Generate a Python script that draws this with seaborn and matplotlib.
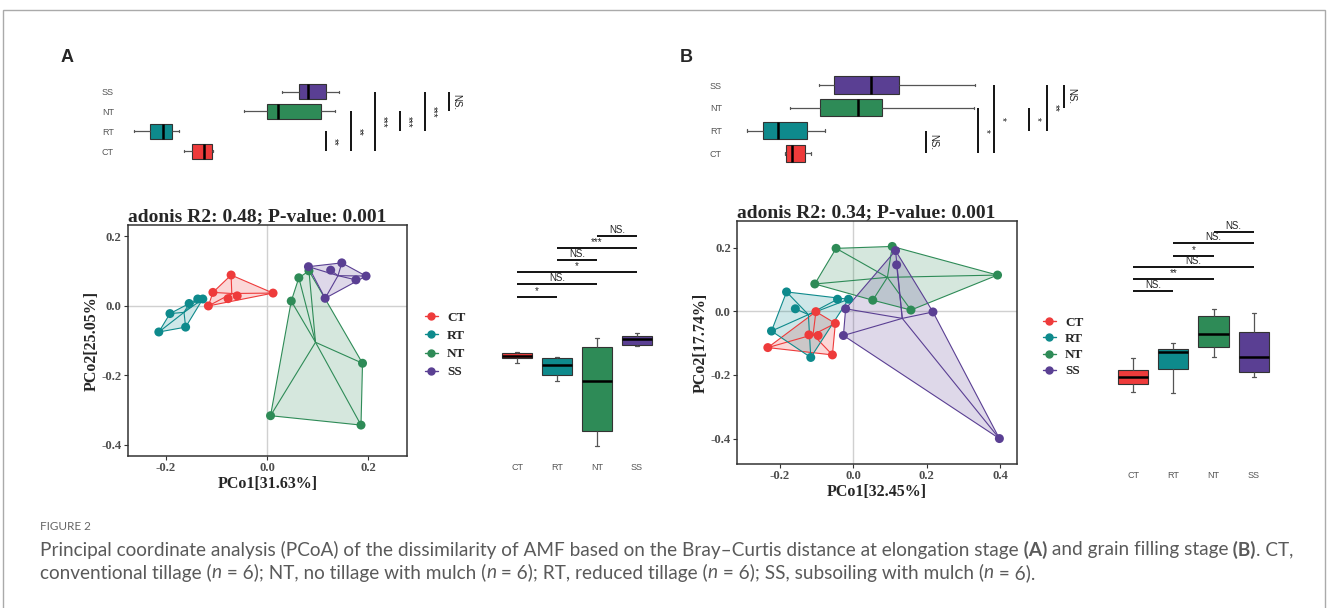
import numpy as np
import pandas as pd
import matplotlib
matplotlib.use("Agg")
import matplotlib.pyplot as plt
import seaborn as sns
from matplotlib.lines import Line2D
from matplotlib.patches import Rectangle

W, H = 1328, 608

GROUPS = ["CT", "RT", "NT", "SS"]
PALETTE = {"CT": "#EE3B3B", "RT": "#0E8A8C", "NT": "#2E8B57", "SS": "#5A3F93"}
PAIRS = [("CT", "RT"), ("CT", "NT"), ("CT", "SS"), ("RT", "NT"), ("RT", "SS"), ("NT", "SS")]

# PCoA scores, elongation stage (A)
a_pco1 = {
    "CT": [-0.116, -0.107, -0.077, -0.071, -0.059, 0.012],
    "RT": [-0.214, -0.192, -0.161, -0.154, -0.137, -0.127],
    "NT": [0.007, 0.048, 0.063, 0.083, 0.189, 0.186],
    "SS": [0.082, 0.115, 0.126, 0.148, 0.176, 0.196],
}
a_pco2 = {
    "CT": [0.000, 0.039, 0.021, 0.089, 0.029, 0.037],
    "RT": [-0.075, -0.022, -0.061, 0.007, 0.020, 0.020],
    "NT": [-0.316, 0.014, 0.081, 0.101, -0.165, -0.343],
    "SS": [0.113, 0.022, 0.103, 0.124, 0.075, 0.086],
}
# PCoA scores, grain filling stage (B)
b_pco1 = {
    "CT": [-0.233, -0.121, -0.102, -0.096, -0.057, -0.049],
    "RT": [-0.223, -0.182, -0.158, -0.116, -0.043, -0.013],
    "NT": [-0.105, -0.047, 0.053, 0.106, 0.157, 0.393],
    "SS": [-0.027, -0.021, 0.115, 0.118, 0.217, 0.398],
}
b_pco2 = {
    "CT": [-0.114, -0.074, -0.001, -0.076, -0.137, -0.038],
    "RT": [-0.062, 0.061, 0.008, -0.145, 0.038, 0.038],
    "NT": [0.086, 0.198, 0.035, 0.204, 0.004, 0.114],
    "SS": [-0.076, 0.008, 0.191, 0.146, -0.002, -0.400],
}

# marginal boxplots: min, q1, median, q3, max
box_a_top = {
    "CT": [-0.163, -0.147, -0.124, -0.108, -0.106],
    "RT": [-0.261, -0.229, -0.204, -0.186, -0.173],
    "NT": [-0.045, 0.000, 0.022, 0.106, 0.133],
    "SS": [0.029, 0.063, 0.080, 0.116, 0.141],
}
box_a_right = {
    "CT": [-0.164, -0.150, -0.144, -0.135, -0.133],
    "RT": [-0.216, -0.199, -0.170, -0.150, -0.147],
    "NT": [-0.403, -0.360, -0.216, -0.118, -0.092],
    "SS": [-0.115, -0.112, -0.095, -0.086, -0.078],
}
box_b_top = {
    "CT": [-0.186, -0.184, -0.167, -0.132, -0.116],
    "RT": [-0.290, -0.246, -0.205, -0.126, -0.077],
    "NT": [-0.173, -0.091, 0.013, 0.078, 0.329],
    "SS": [-0.094, -0.053, 0.048, 0.124, 0.332],
}
box_b_right = {
    "CT": [-0.254, -0.228, -0.206, -0.184, -0.147],
    "RT": [-0.257, -0.181, -0.128, -0.118, -0.100],
    "NT": [-0.144, -0.112, -0.071, -0.015, 0.007],
    "SS": [-0.206, -0.190, -0.144, -0.065, -0.005],
}

# significance brackets (same pair order as PAIRS)
sig_a_top = ["**", "**", "***", "***", "***", "NS."]
sig_a_top_pos = [0.116, 0.165, 0.212, 0.261, 0.310, 0.357]
sig_a_right = ["*", "NS.", "*", "NS.", "***", "NS."]
sig_a_right_pos = [0.026, 0.063, 0.098, 0.133, 0.167, 0.202]
sig_b_top = ["NS.", "*", "*", "*", "**", "NS."]
sig_b_top_pos = [0.198, 0.340, 0.384, 0.479, 0.528, 0.575]
sig_b_right = ["NS.", "**", "NS.", "*", "NS.", "NS."]
sig_b_right_pos = [0.064, 0.101, 0.139, 0.174, 0.215, 0.249]

sns.set_style("white")
plt.rcParams["font.family"] = ["Liberation Serif", "DejaVu Serif"]

fig = plt.figure(figsize=(W / 100, H / 100), dpi=100)


def px_axes(x0, y0, x1, y1):
    return fig.add_axes([x0 / W, 1 - y1 / H, (x1 - x0) / W, (y1 - y0) / H])


def hull(pts):
    pts = sorted(map(tuple, pts))

    def cross(o, a, b):
        return (a[0] - o[0]) * (b[1] - o[1]) - (a[1] - o[1]) * (b[0] - o[0])

    lower, upper = [], []
    for p in pts:
        while len(lower) >= 2 and cross(lower[-2], lower[-1], p) <= 0:
            lower.pop()
        lower.append(p)
    for p in reversed(pts):
        while len(upper) >= 2 and cross(upper[-2], upper[-1], p) <= 0:
            upper.pop()
        upper.append(p)
    return np.array(lower[:-1] + upper[:-1])


def pcoa_panel(ax, pco1, pco2, title, xlab, ylab, xlim, ylim, xticks, yticks):
    ax.axhline(0, color="#D0D0D0", lw=1, zorder=0)
    ax.axvline(0, color="#D0D0D0", lw=1, zorder=0)
    for g in GROUPS:
        pts = np.column_stack([pco1[g], pco2[g]])
        h = hull(pts)
        ax.fill(h[:, 0], h[:, 1], color=PALETTE[g], alpha=0.2, lw=0, zorder=1)
        ax.fill(h[:, 0], h[:, 1], fill=False, edgecolor=PALETTE[g], lw=0.8, zorder=2)
        cx, cy = pts.mean(axis=0)
        for px, py in pts:
            ax.plot([cx, px], [cy, py], color=PALETTE[g], lw=0.8, zorder=2)
    df = pd.DataFrame([(g, x, y) for g in GROUPS for x, y in zip(pco1[g], pco2[g])],
                      columns=["group", "pco1", "pco2"])
    sns.scatterplot(data=df, x="pco1", y="pco2", hue="group", hue_order=GROUPS,
                    palette=PALETTE, s=42, linewidth=0, legend=False, ax=ax, zorder=3)
    ax.set_xlim(*xlim)
    ax.set_ylim(*ylim)
    ax.set_xticks(xticks)
    ax.set_yticks(yticks)
    ax.set_xticklabels([f"{t:.1f}" for t in xticks])
    ax.set_yticklabels([f"{t:.1f}" for t in yticks])
    ax.tick_params(length=3, width=0.8, color="#333333", labelcolor="#4D4D4D",
                   labelsize=9.2, pad=1.5, direction="out", bottom=True, left=True)
    for lab in ax.get_xticklabels() + ax.get_yticklabels():
        lab.set_fontweight("bold")
    for sp in ax.spines.values():
        sp.set_color("#333333")
        sp.set_linewidth(1.1)
    ax.set_xlabel(xlab, fontsize=11.5, fontweight="bold", labelpad=1)
    ax.set_ylabel(ylab, fontsize=11.5, fontweight="bold", labelpad=1)
    ax.set_title(title, loc="left", fontsize=14, fontweight="bold", pad=3)


def box_panel(ax, stats, horizontal):
    order = GROUPS[::-1] if horizontal else GROUPS
    df = pd.DataFrame([(g, v) for g in order for v in stats[g]], columns=["group", "value"])
    kws = dict(data=df, hue="group", hue_order=GROUPS, palette=PALETTE, order=order,
               legend=False, width=0.75, saturation=1, whis=(0, 100), fliersize=0,
               linecolor="#333333", linewidth=0.8,
               medianprops={"color": "black", "linewidth": 1.8},
               whiskerprops={"color": "#555555", "linewidth": 0.9},
               capprops={"color": "#555555", "linewidth": 0.9},
               capwidths=0.1, ax=ax)
    if horizontal:
        sns.boxplot(x="value", y="group", orient="h", **kws)
    else:
        sns.boxplot(x="group", y="value", orient="v", **kws)
    for sp in ax.spines.values():
        sp.set_visible(False)
    ax.set_xlabel("")
    ax.set_ylabel("")
    for lab in ax.get_xticklabels() + ax.get_yticklabels():
        lab.set_family(["Liberation Sans", "DejaVu Sans"])
    if horizontal:
        ax.set_xticks([])
        ax.tick_params(axis="y", length=0, labelsize=6.5, labelcolor="#555555", pad=3)
    else:
        ax.set_yticks([])
        ax.tick_params(axis="x", length=0, labelsize=6.5, labelcolor="#555555", pad=5)
    return {g: i for i, g in enumerate(order)}


def brackets_vertical(ax, pos, ys, labels, dy):
    for (g1, g2), y, lab in zip(PAIRS, ys, labels):
        x1, x2 = pos[g1], pos[g2]
        ax.plot([x1, x2], [y, y], color="black", lw=1.3, solid_capstyle="butt")
        ax.text((x1 + x2) / 2, y + dy, lab, ha="center", va="bottom", fontsize=7,
                family=["Liberation Sans", "DejaVu Sans"], color="#222222")


def brackets_horizontal(ax, pos, xs, labels, dx):
    for (g1, g2), x, lab in zip(PAIRS, xs, labels):
        y1, y2 = pos[g1], pos[g2]
        ax.plot([x, x], [y1, y2], color="black", lw=1.3, solid_capstyle="butt")
        ax.text(x + dx, (y1 + y2) / 2, lab, ha="left", va="center", rotation=-90,
                fontsize=7, family=["Liberation Sans", "DejaVu Sans"], color="#222222")


legend_handles = [Line2D([0], [0], color=PALETTE[g], marker="o", markersize=5, lw=1)
                  for g in GROUPS]

# ---------------- panel A ----------------
ax = px_axes(128, 225, 407, 456)
pcoa_panel(ax, a_pco1, a_pco2, "adonis R2: 0.48; P-value: 0.001", "PCo1[31.63%]",
           "PCo2[25.05%]", (-0.275, 0.277), (-0.432, 0.233), [-0.2, 0.0, 0.2],
           [-0.4, -0.2, 0.0, 0.2])

ax = px_axes(118, 80, 470, 165)
pos = box_panel(ax, box_a_top, horizontal=True)
ax.set_xlim(-0.292, 0.398)
ax.set_ylim(3.675, -0.575)
brackets_horizontal(ax, pos, sig_a_top_pos, sig_a_top, 0.005)

ax = px_axes(495, 225, 660, 456)
pos = box_panel(ax, box_a_right, horizontal=False)
ax.set_xlim(-0.55, 3.575)
ax.set_ylim(-0.432, 0.233)
brackets_vertical(ax, pos, sig_a_right_pos, sig_a_right, 0.003)

fig.legend(legend_handles, GROUPS, loc="center left", bbox_to_anchor=(418 / W, 1 - 345 / H),
           frameon=False, handlelength=1.0, handletextpad=0.7, labelspacing=0.45,
           borderpad=0, prop={"family": "Liberation Serif", "weight": "bold", "size": 9.5})

# ---------------- panel B ----------------
ax = px_axes(737, 221, 1017, 464)
pcoa_panel(ax, b_pco1, b_pco2, "adonis R2: 0.34; P-value: 0.001", "PCo1[32.45%]",
           "PCo2[17.74%]", (-0.317, 0.446), (-0.480, 0.284), [-0.2, 0.0, 0.2, 0.4],
           [-0.4, -0.2, 0.0, 0.2])

ax = px_axes(726, 70, 1085, 168)
pos = box_panel(ax, box_b_top, horizontal=True)
ax.set_xlim(-0.347, 0.632)
ax.set_ylim(3.64, -0.658)
brackets_horizontal(ax, pos, sig_b_top_pos, sig_b_top, 0.007)

ax = px_axes(1100, 221, 1280, 464)
pos = box_panel(ax, box_b_right, horizontal=False)
ax.set_xlim(-0.82, 3.65)
ax.set_ylim(-0.480, 0.284)
brackets_vertical(ax, pos, sig_b_right_pos, sig_b_right, 0.003)

fig.legend(legend_handles, GROUPS, loc="center left", bbox_to_anchor=(1036 / W, 1 - 347 / H),
           frameon=False, handlelength=1.0, handletextpad=0.7, labelspacing=0.3,
           borderpad=0, prop={"family": "Liberation Serif", "weight": "bold", "size": 9.5})

# panel letters
for letter, x in [("A", 67), ("B", 686)]:
    fig.text(x / W, 1 - 58 / H, letter, ha="center", va="center", fontsize=13,
             fontweight="bold", family=["Liberation Sans Narrow", "Liberation Sans"])

# frame and caption
fig.add_artist(Rectangle((3 / W, -0.1), 1322 / W, 1.1 - 10 / H, transform=fig.transFigure,
                         fill=False, edgecolor="#AAAAAA", lw=1))

CAP_COLOR = "#5A5A5A"
fig.text(40 / W, 1 - 527 / H, "FIGURE 2", fontsize=8.5, color="#666666", va="center",
         family=["Lato", "DejaVu Sans"])

renderer = fig.canvas.get_renderer()


def caption_line(x, y, pieces):
    for txt, kind in pieces:
        t = fig.text(x / W, 1 - y / H, txt, fontsize=13.7, color=CAP_COLOR, va="center",
                     ha="left", family=["Lato", "DejaVu Sans"],
                     fontweight="bold" if kind == "b" else "normal",
                     fontstyle="italic" if kind == "i" else "normal")
        x += t.get_window_extent(renderer).width


caption_line(40, 550, [
    ("Principal coordinate analysis (PCoA) of the dissimilarity of AMF based on the "
     "Bray\u2013Curtis distance at elongation stage", ""),
    (" (A)", "b"), (" and grain filling stage", ""), (" (B)", "b"), (". CT,", ""),
])
caption_line(40, 573, [
    ("conventional tillage (", ""), ("n", "i"), (" = 6); NT, no tillage with mulch (", ""),
    ("n", "i"), (" = 6); RT, reduced tillage (", ""), ("n", "i"),
    (" = 6); SS, subsoiling with mulch (", ""), ("n", "i"), (" = 6).", ""),
])

fig.savefig("out.png", dpi=100)
